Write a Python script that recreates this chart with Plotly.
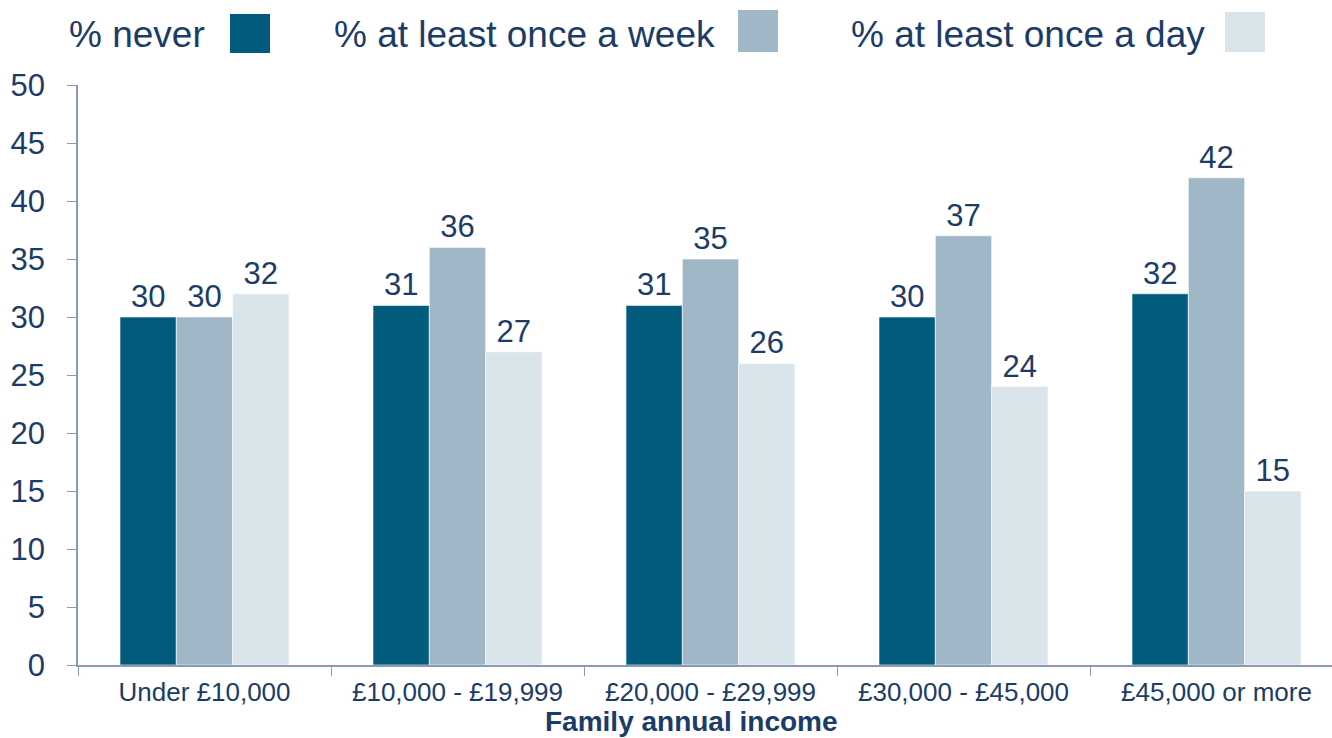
import plotly.graph_objects as go

categories = ["Under £10,000", "£10,000 - £19,999", "£20,000 - £29,999", "£30,000 - £45,000", "£45,000 or more"]
never = [30, 31, 31, 30, 32]
week = [30, 36, 35, 37, 42]
day = [32, 27, 26, 24, 15]
series_names = ["% never", "% at least once a week", "% at least once a day"]
colors = ["#025B7C", "#A0B7C7", "#D9E5EB"]
TXT = "#1B3C68"
FONT = "Liberation Sans, Arial, sans-serif"

W, H = 1332, 738
L, R = 78, 0
T, B = 85, 73
plot_w = W - L - R
plot_h = H - T - B
cat_px = 253.0

fig = go.Figure()
for name, vals, col in zip(series_names, [never, week, day], colors):
    fig.add_trace(go.Bar(
        x=categories, y=vals, name=name,
        marker=dict(color=col, line=dict(color="white", width=0.6)),
        text=[str(v) for v in vals], textposition="outside",
        textfont=dict(size=31, color=TXT, family=FONT),
        cliponaxis=False, showlegend=False,
    ))

def px_x(px):
    return (px - L) / plot_w

def px_y(py):
    return (H - B - py) / plot_h

legend_items = [
    ("% never", 207, 230, 270, 14, 53),
    ("% at least once a week", 717, 738, 778, 10, 52),
    ("% at least once a day", 1207, 1225, 1265, 12, 52),
]
annotations = []
shapes = []
for (label, tx, sx0, sx1, sy0, sy1), col in zip(legend_items, colors):
    annotations.append(dict(
        x=px_x(tx), y=px_y(35), xref="paper", yref="paper",
        text=label, showarrow=False, xanchor="right", yanchor="middle",
        font=dict(size=37, color=TXT, family=FONT),
    ))
    shapes.append(dict(
        type="rect", xref="paper", yref="paper",
        x0=px_x(sx0), x1=px_x(sx1), y0=px_y(sy1), y1=px_y(sy0),
        fillcolor=col, line=dict(width=0),
    ))

annotations.append(dict(
    x=px_x(691), y=px_y(738), xref="paper", yref="paper",
    text="<b>Family annual income</b>", showarrow=False,
    xanchor="center", yanchor="bottom", borderpad=0,
    font=dict(size=28, color=TXT, family=FONT),
))

fig.update_layout(
    width=W, height=H,
    margin=dict(l=L, r=R, t=T, b=B, pad=0),
    paper_bgcolor="white", plot_bgcolor="white",
    barmode="group", bargap=0.332, bargroupgap=0,
    annotations=annotations, shapes=shapes,
    font=dict(family=FONT, color=TXT),
)
fig.update_xaxes(
    range=[-0.5, -0.5 + plot_w / cat_px],
    showline=True, linecolor="#8C9AB3", linewidth=1.5,
    ticks="outside", tickson="boundaries", ticklen=9, tickcolor="#8C9AB3",
    tickfont=dict(size=26, color=TXT, family=FONT),
    ticklabelstandoff=3,
    showgrid=False, zeroline=False,
)
fig.update_yaxes(
    range=[0, 50], dtick=5,
    showline=True, linecolor="#8C9AB3", linewidth=1.5,
    ticks="outside", ticklen=9, tickcolor="#8C9AB3",
    tickfont=dict(size=31, color=TXT, family=FONT),
    ticklabelstandoff=16,
    showgrid=False, zeroline=False,
)

fig.write_html(
    "out.html",
    config={"displayModeBar": False},
    post_script="document.body.style.margin='0';document.body.style.overflow='hidden';",
)
